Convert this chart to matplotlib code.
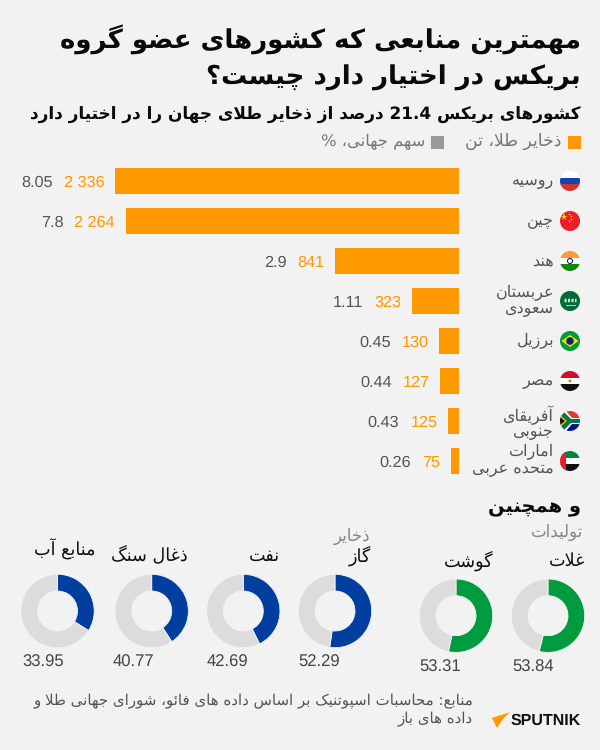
import re
import numpy as np
import matplotlib
matplotlib.use('Agg')
import matplotlib.pyplot as plt
from matplotlib.patches import Circle, Rectangle, Polygon

BG = '#f2f2f2'
ORANGE = '#ff9900'
BLUE = '#003f9f'
GREEN = '#009b3e'
GREY = '#dcdcdc'
TXT = '#555555'

countries = ['روسیه', 'چین', 'هند', 'عربستان\nسعودی', 'برزیل', 'مصر', 'آفریقای\nجنوبی', 'امارات\nمتحده عربی']
tons_labels = ['2 336', '2 264', '841', '323', '130', '127', '125', '75']
share_labels = ['8.05', '7.8', '2.9', '1.11', '0.45', '0.44', '0.43', '0.26']
# bar lengths as drawn in the picture (the last two are shorter than their labels)
bar_values = [2336, 2264, 841, 320, 133, 127, 75, 54]

prod_labels = ['غلات', 'گوشت']
prod_values = [53.84, 53.31]
res_labels = ['گاز', 'نفت', 'ذغال سنگ', 'منابع آب']
res_values = [52.29, 42.69, 40.77, 33.95]

title_lines = ['مهمترین منابعی که کشورهای عضو گروه', 'بریکس در اختیار دارد چیست؟']
subtitle = 'کشورهای بریکس 21.4 درصد از ذخایر طلای جهان را در اختیار دارد'
source_lines = ['منابع: محاسبات اسپوتنیک بر اساس داده های فائو، شورای جهانی طلا و', 'داده های باز']

DUAL = {'ب': 0xFE8F, 'پ': 0xFB56, 'ت': 0xFE95, 'ث': 0xFE99, 'ج': 0xFE9D, 'چ': 0xFB7A, 'ح': 0xFEA1,
        'خ': 0xFEA5, 'س': 0xFEB1, 'ش': 0xFEB5, 'ص': 0xFEB9, 'ض': 0xFEBD, 'ط': 0xFEC1, 'ظ': 0xFEC5,
        'ع': 0xFEC9, 'غ': 0xFECD, 'ف': 0xFED1, 'ق': 0xFED5, 'ک': 0xFB8E, 'گ': 0xFB92, 'ل': 0xFEDD,
        'م': 0xFEE1, 'ن': 0xFEE5, 'ه': 0xFEE9, 'ی': 0xFBFC, 'ئ': 0xFE89}
RIGHT = {'ا': 0xFE8D, 'آ': 0xFE81, 'د': 0xFEA9, 'ذ': 0xFEAB, 'ر': 0xFEAD, 'ز': 0xFEAF, 'ژ': 0xFB8A, 'و': 0xFEED}
LAM_ALEF = {'ا': 0xFEFB, 'آ': 0xFEF5}


def fa(s):
    # matplotlib has no bidi or shaping, so pick the joined forms and put them in visual order
    out = ''
    i = 0
    while i < len(s):
        c = s[i]
        prev = s[i - 1] if i > 0 else ''
        nxt = s[i + 1] if i + 1 < len(s) else ''
        joined = prev in DUAL and prev != ''
        if c == 'ل' and nxt in LAM_ALEF and nxt != '':
            out += chr(LAM_ALEF[nxt] + (1 if joined else 0))
            i += 2
            continue
        if c in DUAL:
            to_next = nxt != '' and (nxt in DUAL or nxt in RIGHT)
            out += chr(DUAL[c] + ({(False, False): 0, (True, False): 1, (False, True): 2, (True, True): 3}[(joined, to_next)]))
        elif c in RIGHT:
            out += chr(RIGHT[c] + (1 if joined else 0))
        else:
            out += c
        i += 1
    return ''.join(reversed(re.findall(r'[0-9.]+|.', out)))


plt.rcParams['font.family'] = ['DejaVu Sans']
plt.rcParams['text.hinting'] = 'no_hinting'
fig = plt.figure(figsize=(6, 7.5), dpi=100, facecolor=BG)

# bars: px 0..459 horizontally, px 161..481 vertically
ax = fig.add_axes([0, 1 - 481 / 750, 459 / 600, 320 / 750])
ax.barh(range(len(bar_values)), bar_values, height=0.65, color=ORANGE)
ax.set_xlim(459 / 0.1473, 0)
ax.set_ylim(len(bar_values) - 0.5, -0.5)
ax.axis('off')

rend = fig.canvas.get_renderer()
for i, v in enumerate(bar_values):
    t = ax.annotate(tons_labels[i], (v, i), xytext=(-7.6, 0), textcoords='offset points', ha='right', va='center_baseline',
                    color=ORANGE, fontsize=11.7, family='Liberation Sans')
    x0 = t.get_window_extent(rend).x0
    fig.text((x0 - 11) / 600, 1 - (181 + 40 * i) / 750, share_labels[i], ha='right', va='center_baseline',
             color=TXT, fontsize=11.7, family='Liberation Sans')

# pixel overlay for text and flags
ov = fig.add_axes([0, 0, 1, 1], zorder=5)
ov.set_xlim(0, 600)
ov.set_ylim(750, 0)
ov.axis('off')


def label(x, y, s, size, color=TXT, weight='normal', ha='right'):
    ov.text(x, y, fa(s), fontsize=size, color=color, fontweight=weight, ha=ha, va='center')


label(581, 40, title_lines[0], 18.7, '#0a0a0a', 'bold')
label(581, 78, title_lines[1], 18.7, '#0a0a0a', 'bold')
label(581, 115, subtitle, 12.15, '#0a0a0a', 'bold')

ov.add_patch(Rectangle((568, 136), 13, 13, color=ORANGE, lw=0))
label(561, 142, 'ذخایر طلا، تن', 12.4, '#777777')
ov.add_patch(Rectangle((431, 136), 13, 13, color='#999999', lw=0))
label(425, 142, 'سهم جهانی، %', 11.8, '#777777')


def flag(cx, cy, stripes=None):
    clip = Circle((cx, cy), 10, transform=ov.transData)
    items = []
    if stripes:
        h = 20 / len(stripes)
        for k, col in enumerate(stripes):
            items.append(ov.add_patch(Rectangle((cx - 10, cy - 10 + k * h), 20, h + 0.2, color=col, lw=0)))
    return clip, items


def clipped(clip, patch):
    ov.add_patch(patch)
    patch.set_clip_path(clip)


rows = [181 + 40 * i for i in range(8)]
fx = 570
for cy, st in zip(rows, [['#ffffff', '#0f47af', '#d8332b'], ['#ee1c25'], ['#ff9933', '#ffffff', '#138808'],
                         ['#006c35'], ['#009b3a'], ['#ce1126', '#ffffff', '#111111'], ['#ffffff'], ['#ffffff']]):
    clip, items = flag(fx, cy, st)
    for p in items:
        p.set_clip_path(clip)

ov.plot([fx - 6.5], [rows[1] - 4], marker='*', ms=5.5, color='#ffde00', mew=0)
ov.scatter([fx - 1.5, fx + 0.5, fx + 0.5, fx - 1.5], [rows[1] - 7, rows[1] - 5, rows[1] - 2, rows[1] - 0.5], s=1.5, color='#ffde00', lw=0)
ov.add_patch(Circle((fx, rows[2]), 2.5, fc='#ffffff', ec='#000080', lw=0.7))
ov.plot([fx - 6, fx + 6], [rows[3] - 1.5, rows[3] - 1.5], color='#cfe3d6', lw=2.5, ls=(0, (0.6, 0.4)))
ov.plot([fx - 4.5, fx + 4.5], [rows[3] + 4, rows[3] + 4], color='#cfe3d6', lw=0.6)
ov.add_patch(Polygon([(fx - 8.5, rows[4]), (fx, rows[4] - 6), (fx + 8.5, rows[4]), (fx, rows[4] + 6)], fc='#fedf00', lw=0))
ov.add_patch(Circle((fx, rows[4]), 3.8, fc='#002776', lw=0))
ov.add_patch(Circle((fx, rows[5]), 1.5, fc='#c09300', lw=0))

# South Africa
c_sa = Circle((fx, rows[6]), 10, transform=ov.transData)
y6 = rows[6]
clipped(c_sa, Rectangle((fx - 10, y6 - 10), 20, 10, color='#e03c31', lw=0))
clipped(c_sa, Rectangle((fx - 10, y6), 20, 10, color='#001489', lw=0))
clipped(c_sa, Polygon([(fx - 10, y6 - 10), (fx - 4, y6 - 10), (fx + 2, y6 - 3), (fx + 10, y6 - 3), (fx + 10, y6 + 3), (fx + 2, y6 + 3),
                       (fx - 4, y6 + 10), (fx - 10, y6 + 10)], fc='#ffffff', lw=0))
clipped(c_sa, Polygon([(fx - 10, y6 - 10), (fx - 7, y6 - 10), (fx + 1, y6 - 2), (fx + 10, y6 - 2), (fx + 10, y6 + 2), (fx + 1, y6 + 2),
                       (fx - 7, y6 + 10), (fx - 10, y6 + 10)], fc='#007749', lw=0))
clipped(c_sa, Polygon([(fx - 10, y6 - 6), (fx - 3, y6), (fx - 10, y6 + 6)], fc='#ffb81c', lw=0))
clipped(c_sa, Polygon([(fx - 10, y6 - 4), (fx - 5, y6), (fx - 10, y6 + 4)], fc='#111111', lw=0))

# UAE
c_ae = Circle((fx, rows[7]), 10, transform=ov.transData)
y7 = rows[7]
clipped(c_ae, Rectangle((fx - 10, y7 - 10), 20, 6.7, color='#00843d', lw=0))
clipped(c_ae, Rectangle((fx - 10, y7 + 3.3), 20, 6.7, color='#111111', lw=0))
clipped(c_ae, Rectangle((fx - 10, y7 - 10), 6, 20, color='#ef1c25', lw=0))

line_y = [[181], [221], [261], [293, 309], [341], [381], [415, 432], [452, 469]]
for name, ys in zip(countries, line_y):
    for part, y in zip(name.split('\n'), ys):
        label(554, y, part, 11.5)


def donut(cx, cy, value, color):
    r = 36.7 * 1.04
    a = fig.add_axes([(cx - r) / 600, 1 - (cy + r) / 750, 2 * r / 600, 2 * r / 750])
    a.pie([value, 100 - value], colors=[color, GREY], startangle=90, counterclock=False,
          wedgeprops=dict(width=0.455, edgecolor=BG, linewidth=0.6))
    a.set_xlim(-1.04, 1.04)
    a.set_ylim(-1.04, 1.04)


def val(x, y, s):
    ov.text(x, y, s, fontsize=12, color='#444444', ha='left', va='center', family='Liberation Sans')


prod_x = [548, 456]
prod_lab_pos = [(585, 561), (493, 561)]
prod_val_x = [512, 419]
for i, v in enumerate(prod_values):
    donut(prod_x[i], 615.7, v, GREEN)
    label(prod_lab_pos[i][0], prod_lab_pos[i][1], prod_labels[i], 12.7, '#111111')
    val(prod_val_x[i], 667, f'{v:.2f}')

res_x = [335, 243.3, 151.7, 57.5]
res_lab_pos = [(371, 556), (280, 556), (188, 555), (95, 549)]
res_val_x = [298, 207, 113, 22]
for i, v in enumerate(res_values):
    donut(res_x[i], 611, v, BLUE)
    label(res_lab_pos[i][0], res_lab_pos[i][1], res_labels[i], 12.7, '#111111')
    val(res_val_x[i], 662, f'{v:.2f}')

label(581, 508, 'و همچنین', 14, '#0a0a0a', 'bold')
label(583, 533, 'تولیدات', 12, '#888888')
label(370, 537, 'ذخایر', 12, '#888888')

label(473, 701, source_lines[0], 10.8, TXT)
label(473, 719, source_lines[1], 10.8, TXT)

ov.add_patch(Polygon([(492, 718), (510, 712), (503, 719), (497, 728)], fc=ORANGE, lw=0))
ov.text(511, 721, 'SPUTNIK', fontsize=11.5, fontweight='bold', color='#111111', ha='left', va='center', family='Liberation Sans')

fig.savefig('out.png', dpi=100, facecolor=BG)
